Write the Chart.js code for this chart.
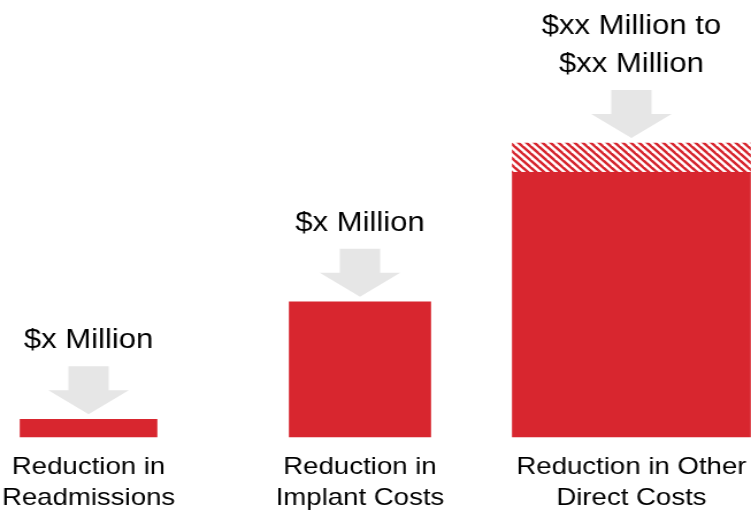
<!DOCTYPE html>
<html>
<head>
<meta charset="utf-8">
<title>Cost reductions</title>
<script src="https://cdn.jsdelivr.net/npm/chart.js@4.4.1/dist/chart.umd.min.js"></script>
<style>
  html, body { margin: 0; padding: 0; background: #fff; overflow: hidden; }
  /* the chart is drawn narrow, then widened so the type looks wide like the slide */
  #wrap {
    width: 653px;
    height: 516px;
    transform: scaleX(1.15008);
    transform-origin: 0 0;
  }
</style>
</head>
<body>
<div id="wrap"><canvas id="chart"></canvas></div>
<script>
'use strict';
//data
let categories = [
  ['Reduction in', 'Readmissions'],
  ['Reduction in', 'Implant Costs'],
  ['Reduction in Other', 'Direct Costs']
];
// low end of each estimate ($ millions, placeholder scale)
let lowValues = [0.6, 4.6, 9];
// high end of the range, only the last one is a range
let highValues = [null, null, 10];
let valueLabels = [
  ['$x Million'],
  ['$x Million'],
  ['$xx Million to', '$xx Million']
];

//styles
let red = '#d8262f';
let arrowGrey = '#e6e6e6';
let barWidths = [119, 123, 207];

//striped fill for the uncertain part of the range
function makeStripes(){
  let p = 7;
  let tile = document.createElement('canvas');
  tile.width = p;
  tile.height = p;
  let c = tile.getContext('2d');
  c.fillStyle = '#fff';
  c.fillRect(0, 0, p, p);
  c.strokeStyle = red;
  c.lineWidth = p / (2 * Math.SQRT2);
  for (let k = -1; k <= 1; k++){
    c.beginPath();
    c.moveTo(-p + k * p, -p);
    c.lineTo(2 * p + k * p, 2 * p);
    c.stroke();
  }
  return c.createPattern(tile, 'repeat');
}

//one dataset per column so each bar can have its own width
function buildDatasets(){
  let sets = [];
  for (let i = 0; i < categories.length; i++){
    let data = categories.map(() => null);
    data[i] = lowValues[i];
    sets.push({
      data: data,
      backgroundColor: red,
      barThickness: barWidths[i],
      grouped: false,
      clip: false
    });
    if (highValues[i] !== null){
      let range = categories.map(() => null);
      range[i] = [lowValues[i], highValues[i]];
      sets.push({
        data: range,
        backgroundColor: makeStripes(),
        barThickness: barWidths[i],
        grouped: false,
        clip: false
      });
    }
  }
  return sets;
}

//grey down arrow and the value text above each column
let callouts = {
  id: 'callouts',
  afterDatasetsDraw(chart){
    let ctx = chart.ctx;
    for (let i = 0; i < categories.length; i++){
      let top = Infinity;
      let x = 0;
      chart.data.datasets.forEach((ds, di) => {
        let el = chart.getDatasetMeta(di).data[i];
        if (ds.data[i] === null || !el) return;
        top = Math.min(top, el.y, el.base);
        x = el.x;
      });
      let tip = top - 5;
      let neck = tip - 24;
      let tail = neck - 24;
      ctx.save();
      ctx.fillStyle = arrowGrey;
      ctx.beginPath();
      ctx.moveTo(x - 17.5, tail);
      ctx.lineTo(x + 17.5, tail);
      ctx.lineTo(x + 17.5, neck);
      ctx.lineTo(x + 35, neck);
      ctx.lineTo(x, tip);
      ctx.lineTo(x - 35, neck);
      ctx.lineTo(x - 17.5, neck);
      ctx.closePath();
      ctx.fill();

      ctx.fillStyle = '#000';
      ctx.font = '27px "Liberation Sans", Arial, sans-serif';
      ctx.textAlign = 'center';
      ctx.textBaseline = 'alphabetic';
      let lines = valueLabels[i];
      let base = tail - 18;
      for (let j = lines.length - 1; j >= 0; j--){
        ctx.fillText(lines[j], x, base);
        base -= 38;
      }
      ctx.restore();
    }
  }
};

Chart.defaults.font.family = '"Liberation Sans", Arial, sans-serif';

let ctx = document.getElementById('chart').getContext('2d');
new Chart(ctx, {
  type: 'bar',
  data: {
    labels: categories,
    datasets: buildDatasets()
  },
  options: {
    responsive: true,
    maintainAspectRatio: false,
    animation: false,
    layout: {
      padding: { top: 143, left: 77, right: 104, bottom: 2 }
    },
    plugins: {
      legend: { display: false },
      tooltip: { enabled: false }
    },
    scales: {
      x: {
        offset: false,
        grid: { display: false },
        border: { display: false },
        ticks: {
          color: '#000',
          font: { size: 24, lineHeight: 1.29 },
          padding: 7,
          autoSkip: false,
          maxRotation: 0,
          minRotation: 0
        },
        afterFit(scale){
          scale.paddingLeft = 0;
          scale.paddingRight = 0;
          scale.height = 77;
        }
      },
      y: {
        display: false,
        min: 0,
        max: 10
      }
    }
  },
  plugins: [callouts]
});
</script>
</body>
</html>
